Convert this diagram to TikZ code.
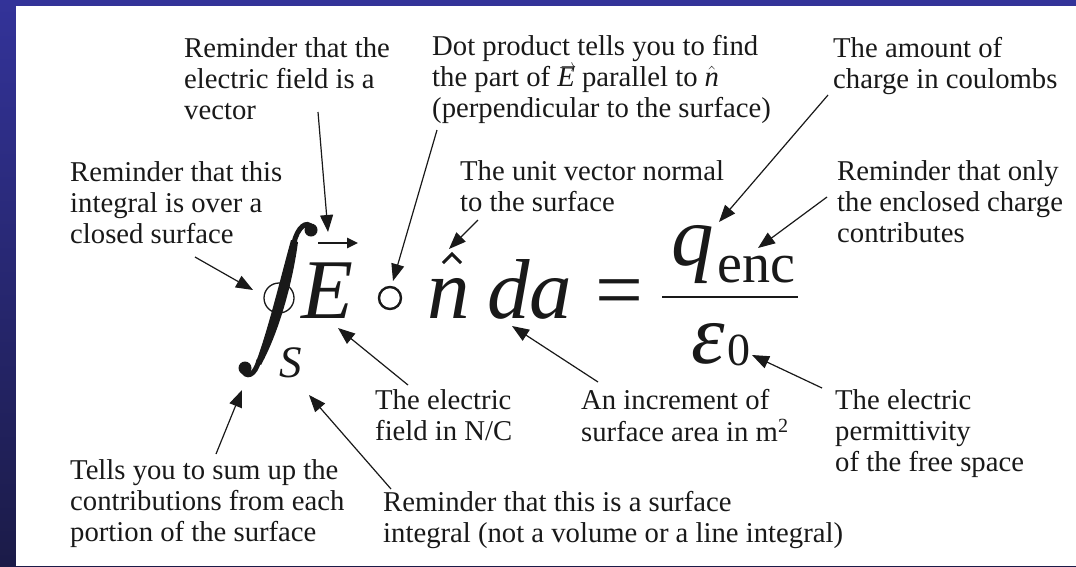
\documentclass[tikz,border=0pt]{standalone}
\usepackage{fontspec}
\usepackage{graphicx}
\setmainfont{Liberation Serif}
\usetikzlibrary{arrows.meta}
\definecolor{bluetop}{RGB}{51,51,153}
\definecolor{bluebot}{RGB}{27,27,72}
\definecolor{ink}{RGB}{25,25,25}
\newcommand{\vecE}{\rlap{\hspace{0.12em}\smash{\raisebox{0.5em}{\scalebox{0.62}[0.7]{$\rightarrow$}}}}\textit{E}}
\begin{document}
\begin{tikzpicture}[x=1pt,y=-1pt,
  lbl/.style={anchor=north west, inner sep=0pt, align=left, text=ink,
    font=\fontsize{28.7}{31}\selectfont},
  sym/.style={anchor=base west, inner sep=0pt, text=ink,
    font=\fontsize{85}{90}\selectfont\itshape},
  subi/.style={anchor=base west, inner sep=0pt, text=ink,
    font=\fontsize{45}{50}\selectfont\itshape},
  subr/.style={anchor=base west, inner sep=0pt, text=ink,
    font=\fontsize{56}{60}\selectfont},
  callout/.style={draw=ink, line width=1.2pt, -{Triangle[length=17pt,width=13pt]}},
  glyph/.style={draw=ink, line width=2.4pt}]
\useasboundingbox (0,0) rectangle (1076,566);
% background
\shade[top color=bluetop, bottom color=bluebot] (0,0) rectangle (1076,566);
\fill[white] (16,6) rectangle (1076,566);

% ---- equation ----
% integral sign with closed-surface circle
\fill[ink] (291,240) .. controls (280,280) and (268,330) .. (256,362)
  -- (261,365) .. controls (280,330) and (293,280) .. (298,242) -- cycle;
\draw[ink, line width=5pt] (294,243) .. controls (297,228) and (307,219) .. (312,228);
\fill[ink] (311,230) circle (6.5);
\draw[ink, line width=5pt] (259,360) .. controls (255,376) and (246,379) .. (242,369);
\fill[ink] (245,368) circle (6.5);
\draw[ink, line width=1.3pt] (279,298) circle (15);
\node[subi] (S) at (279,377) {S};
\node[sym] (E) at (301,318) {E};
\coordinate (Ea) at (318,243);
\coordinate (Eb) at (358,243);
\draw[ink, line width=2.5pt, -{Triangle[length=11pt,width=10pt]}] (Ea) -- (Eb);
\node[glyph, circle, minimum size=22pt, inner sep=0pt] (dot) at (390,298) {};
\node[sym] (n) at (427,318) {n};
\coordinate (h1) at (443,263);
\coordinate (h2) at (452,254);
\coordinate (h3) at (461,263);
\draw[ink, line width=3pt] (h1) -- (h2) -- (h3);
\node[sym] (da) at (487,318) {da};
\node[sym, font=\fontsize{85}{90}\selectfont] (eq) at (595,318) {=};
\node[sym] (q) at (671,265) {q};
\node[subr] (enc) at (717,282) {enc};
\coordinate (fa) at (662,297);
\coordinate (fb) at (798,297);
\draw[ink, line width=2pt] (fa) -- (fb);
\node[sym] (eps) at (691,363) {ε};
\node[subr, font=\fontsize{46}{50}\selectfont] (zero) at (727,365) {0};

% ---- labels ----
\node[lbl] (A1) at (184,35.3) {\strut Reminder that the\\electric field is a\\vector};
\node[lbl] (A2) at (432,33.3) {\strut Dot product tells you to find\\the part of \vecE{} parallel to \smash{$\hat{\textit{n}}$}\\(perpendicular to the surface)};
\node[lbl] (A3) at (833,35.3) {\strut The amount of\\charge in coulombs};
\node[lbl] (B1) at (70,159.3) {\strut Reminder that this\\integral is over a\\closed surface};
\node[lbl] (B2) at (460,158.3) {\strut The unit vector normal\\to the surface};
\node[lbl] (B3) at (837,158.3) {\strut Reminder that only\\the enclosed charge\\contributes};
\node[lbl] (C1) at (375,387.3) {\strut The electric\\field in N/C};
\node[lbl] (C2) at (581,387.3) {\strut An increment of\\surface area in m\textsuperscript{2}};
\node[lbl] (C3) at (835,387.3) {\strut The electric\\permittivity\\of the free space};
\node[lbl] (D1) at (70,457.3) {\strut Tells you to sum up the\\contributions from each\\portion of the surface};
\node[lbl] (D2) at (383,489.3) {\strut Reminder that this is a surface\\integral (not a volume or a line integral)};

% ---- callouts ----
\coordinate (s1) at (318,112);  \coordinate (t1) at (328,232);
\coordinate (s2) at (437,130);  \coordinate (t2) at (393,281);
\coordinate (s3) at (478,220);  \coordinate (t3) at (449,249);
\coordinate (s4) at (195,257);  \coordinate (t4) at (253,290);
\coordinate (s5) at (828,95);   \coordinate (t5) at (719,222);
\coordinate (s6) at (827,197);  \coordinate (t6) at (758,248);
\coordinate (s7) at (822,388);  \coordinate (t7) at (752,355);
\coordinate (s8) at (408,385);  \coordinate (t8) at (338,328);
\coordinate (s9) at (598,382);  \coordinate (t9) at (512,326);
\coordinate (s10) at (216,454); \coordinate (t10) at (242,390);
\coordinate (s11) at (391,489); \coordinate (t11) at (309,395);
\foreach \i in {1,...,11} \draw[callout] (s\i) -- (t\i);
\end{tikzpicture}
\end{document}
